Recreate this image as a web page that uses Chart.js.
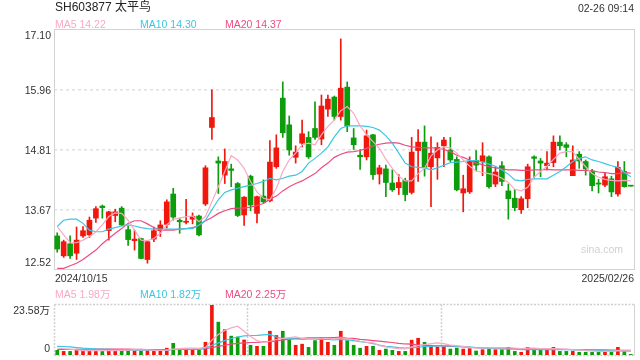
<!DOCTYPE html>
<html>
<head>
<meta charset="utf-8">
<script src="https://cdn.jsdelivr.net/npm/chart.js@4.4.1/dist/chart.umd.min.js"></script>
<style>
  body { margin: 0; background: #fff; }
  #wrap { position: relative; width: 640px; height: 360px; overflow: hidden; font-family: "Liberation Sans", Arial, "Noto Sans CJK SC", sans-serif; }
  canvas { position: absolute; left: 0; }
  .txt { position: absolute; white-space: nowrap; font-size: 10.5px; line-height: 12px; }
</style>
</head>
<body>
<div id="wrap">
  <canvas id="kline" width="640" height="290" style="top:0"></canvas>
  <canvas id="vol" width="640" height="70" style="top:290px"></canvas>
  <div class="txt" style="left:55px;top:0px;font-size:12px;line-height:14px;color:#222">SH603877 太平鸟</div>
  <div class="txt" style="right:6px;top:2px;color:#333">02-26 09:14</div>
  <div class="txt" id="lg5" style="left:55px;top:18px"></div>
  <div class="txt" id="lg10" style="left:140px;top:18px"></div>
  <div class="txt" id="lg20" style="left:225px;top:18px"></div>
  <div class="txt" id="vlg5" style="left:55px;top:288px"></div>
  <div class="txt" id="vlg10" style="left:140px;top:288px"></div>
  <div class="txt" id="vlg20" style="left:225px;top:288px"></div>
</div>
<script>
// trading days shown
const dates = [
  "2024/10/15","2024/10/16","2024/10/17","2024/10/18","2024/10/21","2024/10/22","2024/10/23","2024/10/24","2024/10/25","2024/10/28","2024/10/29","2024/10/30","2024/10/31",
  "2024/11/01","2024/11/04","2024/11/05","2024/11/06","2024/11/07","2024/11/08","2024/11/11","2024/11/12","2024/11/13","2024/11/14","2024/11/15","2024/11/18","2024/11/19","2024/11/20","2024/11/21","2024/11/22","2024/11/25","2024/11/26","2024/11/27","2024/11/28","2024/11/29",
  "2024/12/02","2024/12/03","2024/12/04","2024/12/05","2024/12/06","2024/12/09","2024/12/10","2024/12/11","2024/12/12","2024/12/13","2024/12/16","2024/12/17","2024/12/18","2024/12/19","2024/12/20","2024/12/23","2024/12/24","2024/12/25","2024/12/26","2024/12/27","2024/12/30","2024/12/31",
  "2025/01/02","2025/01/03","2025/01/06","2025/01/07","2025/01/08","2025/01/09","2025/01/10","2025/01/13","2025/01/14","2025/01/15","2025/01/16","2025/01/17","2025/01/20","2025/01/21","2025/01/22","2025/01/23","2025/01/24","2025/01/27",
  "2025/02/05","2025/02/06","2025/02/07","2025/02/10","2025/02/11","2025/02/12","2025/02/13","2025/02/14","2025/02/17","2025/02/18","2025/02/19","2025/02/20","2025/02/21","2025/02/24","2025/02/25","2025/02/26"
];

const opens = [
  13.17, 12.79, 13.02, 12.84, 13.17, 13.19, 13.51, 13.74, 13.27, 13.56,
  13.70, 13.29, 13.08, 13.12, 12.72, 13.11, 13.27, 13.39, 13.97, 13.47,
  13.43, 13.49, 13.55, 13.78, 15.24, 14.60, 14.33, 14.45, 14.17, 13.57,
  14.31, 13.60, 13.93, 13.84, 14.49, 15.80, 15.29, 14.67, 14.94, 15.05,
  15.22, 15.02, 15.59, 15.82, 15.45, 16.01, 15.04, 14.71, 14.68, 15.10,
  14.35, 14.45, 14.18, 14.09, 14.23, 14.00, 14.80, 14.96, 14.49, 14.66,
  14.89, 14.81, 14.63, 13.99, 14.01, 14.61, 14.59, 14.68, 14.16, 14.51,
  14.03, 13.89, 13.67, 13.88, 14.68, 14.60, 14.51, 14.57, 14.96, 14.91,
  14.32, 14.73, 14.59, 14.41, 14.18, 14.14, 14.26, 13.97, 14.40, 14.13
];
const closes = [
  12.92, 13.06, 12.79, 13.09, 13.27, 13.47, 13.69, 13.71, 13.63, 13.63,
  13.38, 13.10, 13.11, 12.74, 13.06, 13.27, 13.38, 13.82, 13.53, 13.44,
  13.45, 13.54, 13.19, 14.47, 15.43, 14.56, 14.59, 14.42, 13.56, 13.91,
  13.76, 13.92, 13.82, 14.58, 14.85, 15.14, 14.81, 14.77, 15.12, 14.68,
  15.05, 15.65, 15.78, 15.45, 15.99, 15.27, 14.91, 14.68, 15.08, 14.34,
  14.47, 14.19, 14.05, 14.19, 13.96, 14.77, 14.96, 14.48, 14.75, 14.86,
  15.00, 14.62, 14.05, 14.07, 14.59, 14.52, 14.70, 14.11, 14.39, 14.21,
  13.88, 13.71, 13.88, 14.49, 14.65, 14.56, 14.56, 14.96, 14.89, 14.86,
  14.62, 14.60, 14.45, 14.13, 14.16, 14.30, 14.01, 14.48, 14.11, 14.12
];
const highs = [
  13.23, 13.09, 13.17, 13.34, 13.35, 13.53, 13.73, 13.76, 13.64, 13.68,
  13.73, 13.36, 13.28, 13.13, 13.08, 13.34, 13.46, 13.86, 14.08, 13.51,
  13.87, 13.61, 13.57, 14.51, 15.96, 14.68, 14.83, 14.54, 14.19, 13.92,
  14.33, 13.93, 14.24, 14.99, 15.10, 16.11, 15.46, 14.89, 15.38, 15.16,
  15.73, 15.86, 15.86, 15.84, 16.93, 16.11, 15.22, 14.82, 15.19, 15.11,
  14.52, 14.52, 14.43, 14.34, 14.27, 15.05, 15.20, 15.27, 15.06, 14.95,
  15.05, 15.05, 14.68, 14.33, 14.68, 14.80, 14.95, 14.70, 14.49, 14.59,
  14.16, 14.06, 13.92, 14.54, 14.70, 14.65, 14.78, 15.08, 15.08, 14.95,
  14.89, 14.78, 14.62, 14.44, 14.25, 14.38, 14.31, 14.59, 14.59, 14.13
];
const lows = [
  12.86, 12.76, 12.74, 12.72, 13.14, 13.14, 13.43, 13.51, 13.09, 13.44,
  13.36, 12.99, 12.90, 12.73, 12.65, 13.06, 13.16, 13.32, 13.47, 13.22,
  13.40, 13.40, 13.17, 13.75, 15.01, 13.98, 14.17, 14.11, 13.54, 13.37,
  13.65, 13.42, 13.80, 13.82, 14.46, 15.05, 14.71, 14.56, 14.87, 14.65,
  15.01, 14.91, 15.45, 15.38, 15.38, 15.16, 14.82, 14.44, 14.62, 14.25,
  14.16, 13.92, 14.02, 13.96, 13.84, 13.97, 14.21, 14.31, 13.73, 14.25,
  14.49, 14.59, 14.03, 13.63, 13.98, 14.41, 14.32, 14.08, 14.11, 14.13,
  13.49, 13.65, 13.60, 13.71, 14.27, 14.30, 14.43, 14.49, 14.81, 14.68,
  14.32, 14.46, 14.33, 14.03, 13.99, 14.11, 13.92, 13.93, 14.10, 14.12
];

const ma5 = [
  13.35, 13.19, 13.04, 13.04, 13.09, 13.16, 13.25, 13.38, 13.54, 13.61,
  13.60, 13.47, 13.28, 13.09, 13.08, 13.12, 13.22, 13.38, 13.49, 13.51,
  13.54, 13.55, 13.44, 13.54, 13.82, 14.11, 14.40, 14.70, 14.62, 14.46,
  14.21, 14.01, 13.89, 13.86, 14.08, 14.40, 14.62, 14.75, 14.91, 14.94,
  14.91, 15.10, 15.26, 15.38, 15.56, 15.64, 15.51, 15.27, 15.10, 14.97,
  14.84, 14.63, 14.46, 14.31, 14.22, 14.22, 14.36, 14.46, 14.70, 14.81,
  14.87, 14.85, 14.75, 14.62, 14.50, 14.41, 14.38, 14.36, 14.33, 14.27,
  14.19, 14.06, 14.03, 14.10, 14.29, 14.40, 14.50, 14.63, 14.75, 14.78,
  14.78, 14.63, 14.49, 14.36, 14.29, 14.25, 14.23, 14.22, 14.23, 14.22
];
const ma10 = [
  13.35, 13.47, 13.49, 13.49, 13.41, 13.28, 13.25, 13.25, 13.30, 13.33,
  13.36, 13.38, 13.36, 13.33, 13.31, 13.30, 13.30, 13.30, 13.30, 13.30,
  13.31, 13.31, 13.38, 13.47, 13.67, 13.86, 14.00, 14.05, 14.08, 14.11,
  14.14, 14.17, 14.21, 14.27, 14.24, 14.27, 14.31, 14.33, 14.40, 14.56,
  14.65, 14.75, 14.87, 15.06, 15.22, 15.27, 15.27, 15.27, 15.26, 15.24,
  15.19, 15.08, 14.94, 14.75, 14.56, 14.49, 14.48, 14.47, 14.43, 14.47,
  14.52, 14.57, 14.58, 14.59, 14.61, 14.61, 14.58, 14.54, 14.50, 14.43,
  14.35, 14.24, 14.22, 14.25, 14.26, 14.26, 14.26, 14.33, 14.40, 14.49,
  14.59, 14.65, 14.68, 14.62, 14.59, 14.55, 14.51, 14.48, 14.38, 14.30
];
const ma20 = [
  12.55, 12.55, 12.60, 12.65, 12.72, 12.81, 12.90, 13.02, 13.12, 13.22,
  13.31, 13.41, 13.46, 13.46, 13.40, 13.33, 13.28, 13.28, 13.28, 13.30,
  13.31, 13.33, 13.37, 13.46, 13.52, 13.60, 13.65, 13.69, 13.70, 13.70,
  13.72, 13.75, 13.79, 13.87, 13.93, 14.03, 14.11, 14.17, 14.22, 14.29,
  14.36, 14.47, 14.56, 14.67, 14.73, 14.77, 14.78, 14.80, 14.84, 14.89,
  14.92, 14.94, 14.95, 14.94, 14.90, 14.87, 14.86, 14.85, 14.85, 14.85,
  14.82, 14.78, 14.71, 14.67, 14.62, 14.56, 14.53, 14.49, 14.47, 14.45,
  14.43, 14.43, 14.42, 14.42, 14.43, 14.43, 14.44, 14.43, 14.43, 14.43,
  14.43, 14.42, 14.42, 14.41, 14.39, 14.38, 14.36, 14.36, 14.38, 14.37
];

// volume, in 万 shares
const volumes = [
  2.2, 1.7, 1.7, 2.2, 2.2, 2.2, 1.7, 1.7, 2.5, 2.2,
  2.5, 2.5, 2.2, 2.5, 2.2, 1.7, 2.2, 3.2, 5.5, 2.5,
  2.8, 2.5, 2.2, 6.0, 23.58, 15.5, 12.0, 8.9, 8.5, 7.1,
  4.6, 4.1, 4.1, 11.2, 9.2, 11.2, 7.6, 4.6, 5.1, 3.6,
  6.8, 8.2, 6.0, 4.6, 11.2, 6.8, 4.6, 3.2, 4.1, 4.1,
  2.2, 2.8, 2.2, 1.7, 1.7, 7.0, 7.9, 6.0, 4.6, 3.8,
  3.8, 2.8, 3.3, 2.8, 3.0, 1.9, 2.5, 2.8, 2.5, 2.5,
  3.6, 1.7, 1.3, 3.6, 2.5, 2.5, 2.5, 3.6, 1.7, 1.7,
  1.7, 1.3, 1.3, 1.3, 1.3, 1.3, 1.3, 3.6, 1.7, 0.3
];
const volMa5 = [
  3.3, 3.0, 2.8, 2.4, 2.1, 2.1, 2.1, 2.0, 2.1, 2.1,
  2.2, 2.3, 2.4, 2.4, 2.4, 2.2, 2.2, 2.3, 2.8, 3.0,
  3.2, 3.3, 3.1, 3.6, 7.0, 9.7, 11.6, 12.8, 13.6, 11.2,
  8.7, 6.8, 6.0, 6.5, 7.3, 7.8, 8.2, 8.5, 7.8, 7.3,
  7.3, 7.9, 7.9, 7.6, 8.1, 7.6, 7.3, 6.5, 6.0, 5.7,
  4.4, 3.8, 3.3, 3.0, 2.85, 3.8, 4.4, 4.9, 5.4, 5.7,
  5.4, 4.7, 4.4, 4.1, 3.6, 3.3, 3.3, 3.3, 3.3, 3.3,
  3.3, 3.2, 3.0, 3.2, 3.2, 3.0, 3.0, 3.0, 2.85, 2.7,
  2.5, 2.4, 2.1, 1.9, 1.7, 1.7, 1.7, 2.1, 2.0, 1.98
];
const volMa10 = [
  4.1, 4.0, 3.8, 3.5, 3.2, 3.0, 2.85, 2.8, 2.7, 2.6,
  2.4, 2.3, 2.2, 2.2, 2.3, 2.3, 2.2, 2.3, 2.6, 2.6,
  2.7, 2.8, 2.9, 3.3, 4.6, 5.7, 6.8, 7.8, 8.5, 9.0,
  9.2, 9.3, 9.5, 9.7, 8.5, 7.8, 7.6, 7.6, 7.4, 7.3,
  7.4, 7.4, 7.3, 7.1, 7.3, 7.1, 6.8, 6.3, 5.9, 5.4,
  4.7, 4.1, 3.8, 3.5, 3.3, 3.5, 3.6, 4.0, 4.1, 4.3,
  4.4, 4.3, 4.1, 4.0, 3.8, 3.5, 3.3, 3.1, 2.95, 2.85,
  2.7, 2.7, 2.5, 2.5, 2.5, 2.5, 2.5, 2.5, 2.5, 2.5,
  2.4, 2.4, 2.2, 2.2, 2.1, 2.0, 1.9, 1.9, 1.85, 1.82
];
const volMa20 = [
  2.6, 2.6, 2.6, 2.7, 2.7, 2.7, 2.8, 2.8, 2.8, 2.8,
  2.8, 2.8, 2.7, 2.7, 2.6, 2.6, 2.5, 2.5, 2.6, 2.6,
  2.6, 2.6, 2.7, 3.0, 3.5, 4.1, 4.6, 5.1, 5.5, 5.7,
  5.9, 6.0, 6.2, 6.3, 6.6, 7.1, 7.4, 7.8, 7.9, 8.1,
  8.1, 8.1, 8.2, 8.2, 8.4, 7.9, 7.8, 7.4, 7.1, 6.8,
  6.5, 6.2, 5.9, 5.5, 5.2, 5.1, 4.7, 4.6, 4.4, 4.4,
  4.3, 4.1, 4.0, 3.8, 3.6, 3.5, 3.3, 3.2, 3.2, 3.2,
  3.2, 3.0, 3.0, 3.0, 2.85, 2.85, 2.85, 2.7, 2.7, 2.7,
  2.5, 2.5, 2.4, 2.4, 2.4, 2.4, 2.3, 2.3, 2.25, 2.25
];

const priceTicks = [12.52, 13.67, 14.81, 15.96, 17.10];
const volTicks = [0, 23.58];

const RED = "#f2170d";
const GREEN = "#0c9c0c";
const C_MA5 = "#f9a9c3";
const C_MA10 = "#3cc6e3";
const C_MA20 = "#ec4d80";
const FONT = '10.5px "Liberation Sans", Arial, "Noto Sans CJK SC", sans-serif';

const candleColors = opens.map((o, i) => (closes[i] >= o ? RED : GREEN));
const last = (arr) => arr[arr.length - 1];

// legends
function setLegend(id, text, color) {
  const el = document.getElementById(id);
  el.textContent = text;
  el.style.color = color;
}
setLegend("lg5", "MA5 " + last(ma5).toFixed(2), C_MA5);
setLegend("lg10", "MA10 " + last(ma10).toFixed(2), C_MA10);
setLegend("lg20", "MA20 " + last(ma20).toFixed(2), C_MA20);
setLegend("vlg5", "MA5 " + last(volMa5).toFixed(2) + "万", C_MA5);
setLegend("vlg10", "MA10 " + last(volMa10).toFixed(2) + "万", C_MA10);
setLegend("vlg20", "MA20 " + last(volMa20).toFixed(2) + "万", C_MA20);

function maLine(label, data, color) {
  return {
    type: "line", label, data,
    borderColor: color, borderWidth: 1.2,
    pointRadius: 0, fill: false, tension: 0, order: 0
  };
}

// price panel frame + labels
const klineDecor = {
  id: "klineDecor",
  beforeDatasetsDraw(chart) {
    const { ctx, chartArea: a } = chart;
    ctx.save();
    ctx.strokeStyle = "#d2d2d2";
    ctx.lineWidth = 1;
    ctx.strokeRect(a.left + 0.5, a.top - 0.5, a.right - a.left, a.bottom - a.top);
    ctx.restore();
  },
  afterDraw(chart) {
    const { ctx, chartArea: a, scales } = chart;
    const y = scales.y;
    ctx.save();
    ctx.font = FONT;
    ctx.fillStyle = "#333";
    ctx.textAlign = "right";
    y.ticks.forEach((t, i) => {
      const py = y.getPixelForValue(t.value);
      let by = py + 3.8;
      if (i === y.ticks.length - 1) by = py + 8.5;
      if (i === 0) by = py - 4;
      ctx.fillText(t.value.toFixed(2), a.left - 3, by);
    });
    ctx.textAlign = "left";
    ctx.fillText(dates[0], a.left + 1, a.bottom + 11.7);
    ctx.textAlign = "right";
    ctx.fillText(last(dates), a.right, a.bottom + 11.7);
    ctx.fillStyle = "#d0d0d0";
    ctx.fillText("sina.com", a.right - 11, a.bottom - 17);
    ctx.restore();
  }
};

new Chart(document.getElementById("kline"), {
  type: "bar",
  data: {
    labels: dates,
    datasets: [
      maLine("MA5", ma5, C_MA5),
      maLine("MA10", ma10, C_MA10),
      maLine("MA20", ma20, C_MA20),
      {
        label: "body",
        data: opens.map((o, i) => [o, closes[i]]),
        backgroundColor: candleColors,
        barThickness: 5, minBarLength: 1, grouped: false, order: 1
      },
      {
        label: "wick",
        data: lows.map((l, i) => [l, highs[i]]),
        backgroundColor: candleColors,
        barThickness: 1, grouped: false, order: 2
      }
    ]
  },
  options: {
    responsive: false,
    animation: false,
    events: [],
    layout: { padding: { left: 54, right: 6, top: 30, bottom: 20 } },
    plugins: { legend: { display: false }, tooltip: { enabled: false } },
    scales: {
      x: { display: false },
      y: {
        min: 12.52, max: 17.10,
        afterBuildTicks: (scale) => { scale.ticks = priceTicks.map((v) => ({ value: v })); },
        ticks: { display: false },
        grid: {
          drawTicks: false, lineWidth: 1.6,
          color: (c) => (c.index === 0 || c.index === priceTicks.length - 1 ? "rgba(0,0,0,0)" : "#e2e2e2")
        },
        border: { display: false, dash: [3, 3] }
      }
    }
  },
  plugins: [klineDecor]
});

// volume panel frame + labels
const volDecor = {
  id: "volDecor",
  beforeDatasetsDraw(chart) {
    const { ctx, chartArea: a } = chart;
    ctx.save();
    ctx.strokeStyle = "#cfcfcf";
    ctx.lineWidth = 1.5;
    ctx.setLineDash([2, 1.5]);
    const l = a.left + 0.5, r = a.right + 0.5, t = a.top - 0.5, b = a.bottom + 0.5;
    ctx.beginPath();
    ctx.moveTo(l, t); ctx.lineTo(r, t);
    ctx.moveTo(l, b); ctx.lineTo(r, b);
    ctx.moveTo(l, t); ctx.lineTo(l, b);
    const w = a.right - a.left;
    [1, 2].forEach((k) => {
      const x = Math.round(a.left + (w * k) / 3) + 0.5;
      ctx.moveTo(x, t); ctx.lineTo(x, b);
    });
    ctx.stroke();
    ctx.setLineDash([]);
    ctx.lineWidth = 1;
    ctx.strokeStyle = "#d2d2d2";
    ctx.beginPath();
    ctx.moveTo(r, t); ctx.lineTo(r, b);
    ctx.stroke();
    ctx.restore();
  },
  afterDraw(chart) {
    const { ctx, chartArea: a, scales } = chart;
    const y = scales.y;
    ctx.save();
    ctx.font = FONT;
    ctx.fillStyle = "#333";
    ctx.textAlign = "right";
    y.ticks.forEach((t) => {
      const py = y.getPixelForValue(t.value);
      const txt = t.value === 0 ? "0" : t.value.toFixed(2) + "万";
      ctx.fillText(txt, a.left - 4, t.value === 0 ? py - 3.3 : py + 8.5);
    });
    ctx.restore();
  }
};

new Chart(document.getElementById("vol"), {
  type: "bar",
  data: {
    labels: dates,
    datasets: [
      maLine("MA5", volMa5, C_MA5),
      maLine("MA10", volMa10, C_MA10),
      maLine("MA20", volMa20, C_MA20),
      {
        label: "volume",
        data: volumes,
        backgroundColor: candleColors,
        barThickness: 3, grouped: false, order: 1
      }
    ]
  },
  options: {
    responsive: false,
    animation: false,
    events: [],
    layout: { padding: { left: 54, right: 6, top: 15, bottom: 5 } },
    plugins: { legend: { display: false }, tooltip: { enabled: false } },
    scales: {
      x: { display: false },
      y: {
        min: 0, max: 23.58,
        afterBuildTicks: (scale) => { scale.ticks = volTicks.map((v) => ({ value: v })); },
        ticks: { display: false },
        grid: { display: false, drawTicks: false },
        border: { display: false }
      }
    }
  },
  plugins: [volDecor]
});
</script>
</body>
</html>
